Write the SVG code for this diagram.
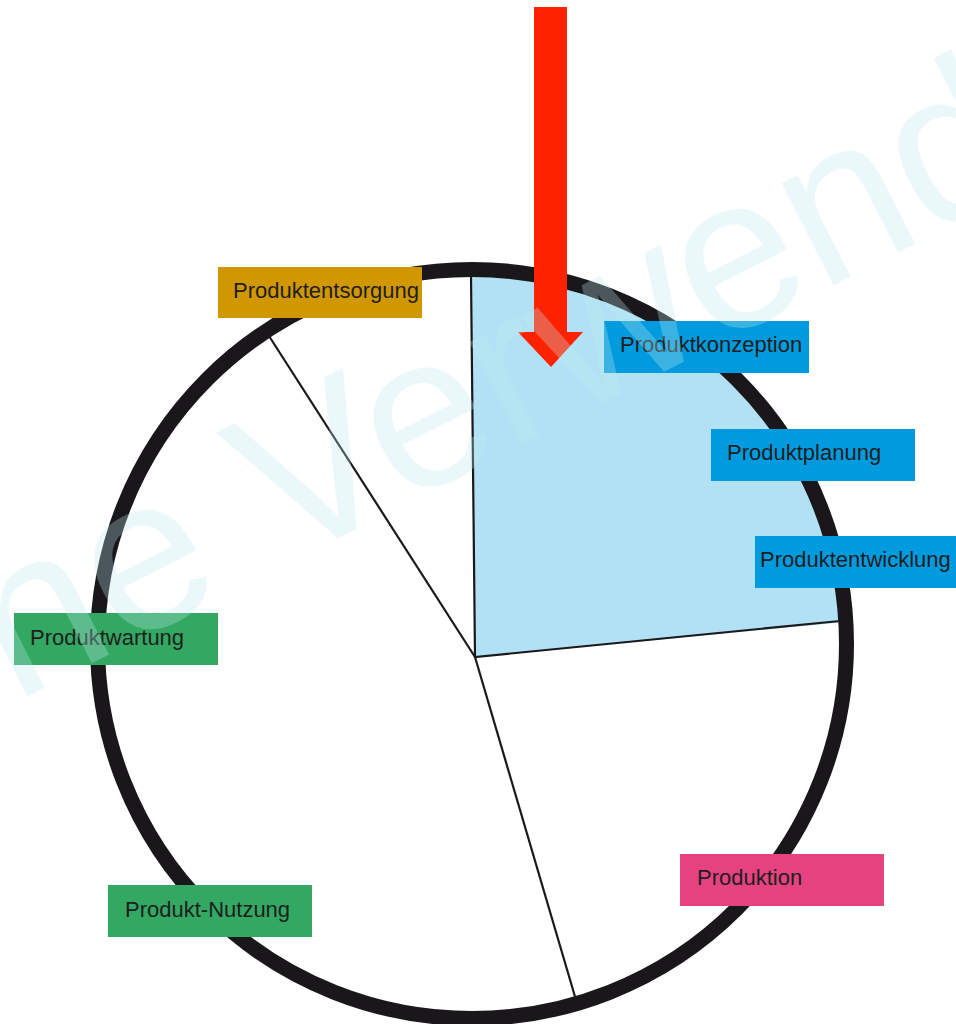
<svg xmlns="http://www.w3.org/2000/svg" width="956" height="1024" viewBox="0 0 956 1024">
<style>
.lbl{font-family:"Liberation Sans",Arial,Helvetica,sans-serif;font-size:22px;fill:#1e1e1e}
.line{stroke:#1a181b;stroke-width:2.2;fill:none}
.blue{fill:#009bdf}
.wm{font-family:"Liberation Sans",Arial,Helvetica,sans-serif;font-size:217px;fill:#bfebee;opacity:0.3}
</style>
<rect width="956" height="1024" fill="#ffffff"/>
<g id="pie">
<path d="M475,657 L471,270 A374.5,374.5 0 0 1 846.3,622 Z" fill="#b2e1f5"/>
<circle cx="472" cy="644" r="374.5" fill="none" stroke="#1a171b" stroke-width="15"/>
</g>
<g id="connectors">
<path class="line" d="M471,276 L475,657 L840,621"/>
<path class="line" d="M475,657 L269,336"/>
<path class="line" d="M475,657 L576,1000"/>
<polygon points="534,7 567,7 567,332 583,332 551,367 518,332 534,332" fill="#ff2200"/>
</g>
<g id="n-produktentsorgung"><rect x="218" y="267" width="204" height="51" fill="#d09700"/><text class="lbl" x="233" y="298">Produktentsorgung</text></g>
<g id="n-produktkonzeption"><rect class="blue" x="604" y="321" width="205" height="52"/><text class="lbl" x="620" y="352">Produktkonzeption</text></g>
<g id="n-produktplanung"><rect class="blue" x="711" y="429" width="204" height="52"/><text class="lbl" x="727" y="460">Produktplanung</text></g>
<g id="n-produktentwicklung"><rect class="blue" x="755" y="536" width="204" height="52"/><text class="lbl" x="760" y="567">Produktentwicklung</text></g>
<g id="n-produktwartung"><rect x="14" y="613" width="204" height="52" fill="#33a862"/><text class="lbl" x="30" y="645">Produktwartung</text></g>
<g id="n-produkt-nutzung"><rect x="108" y="885" width="204" height="52" fill="#33a862"/><text class="lbl" x="125" y="917">Produkt-Nutzung</text></g>
<g id="n-produktion"><rect x="680" y="854" width="204" height="52" fill="#e5437f"/><text class="lbl" x="697" y="885">Produktion</text></g>
<text class="wm" x="14" y="703" transform="rotate(-27 14 703)">ne Verwend</text>
</svg>
